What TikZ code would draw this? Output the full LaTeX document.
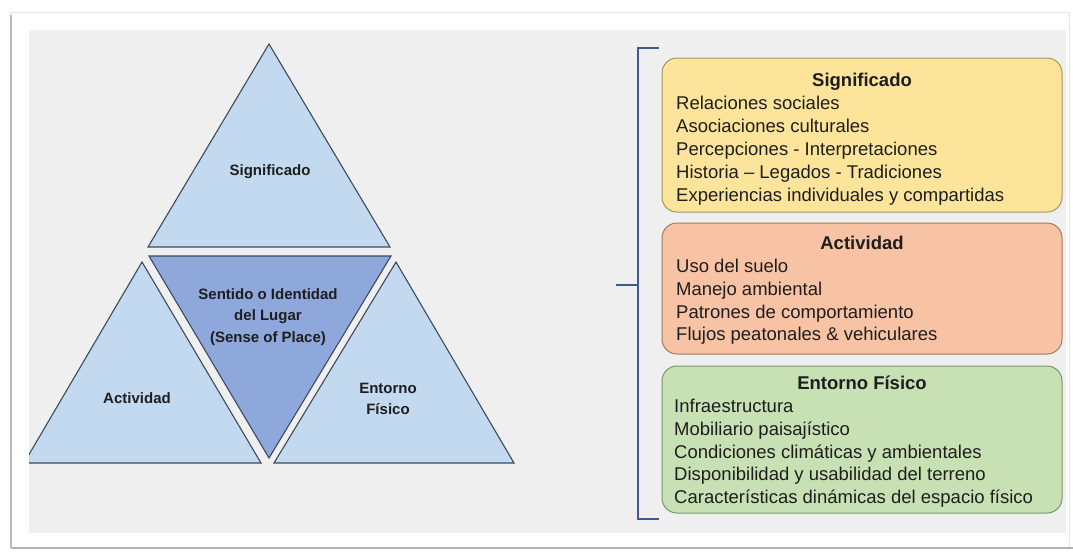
\documentclass[tikz,border=0pt]{standalone}
\usepackage{fontspec}
\setmainfont{Liberation Sans}
\definecolor{panel}{HTML}{EFEFEF}
\definecolor{trilight}{HTML}{C2D9EF}
\definecolor{tridark}{HTML}{8FA8DC}
\definecolor{triline}{HTML}{3B4A5E}
\definecolor{brk}{HTML}{3E5A8E}
\definecolor{yfill}{HTML}{FDE49B}
\definecolor{yline}{HTML}{A8955E}
\definecolor{ofill}{HTML}{F8C3A5}
\definecolor{oline}{HTML}{A27B63}
\definecolor{gfill}{HTML}{C7E1B5}
\definecolor{gline}{HTML}{789868}
\definecolor{txt}{HTML}{1E1E1E}
\begin{document}
\begin{tikzpicture}[x=1pt,y=-1pt,
  tri/.style={draw=triline, line width=1.1pt, line join=miter},
  trilabel/.style={font=\bfseries\fontsize{15}{21.5}\selectfont, text=txt, align=center, inner sep=0pt},
  card/.style={line width=1pt, rounded corners=15pt},
  cardtitle/.style={font=\bfseries\fontsize{18.5}{23}\selectfont, text=txt, anchor=base, inner sep=0pt},
  carditem/.style={font=\fontsize{18.5}{23}\selectfont, text=txt, anchor=base west, inner sep=0pt},
  bracket/.style={draw=brk, line width=2pt}]
\useasboundingbox (0,0) rectangle (1073,552);
\fill[white] (0,0) rectangle (1073,552);
% outer frame
\draw[gray!20, line width=1pt] (10,12) rectangle (1069,548);
\draw[gray!55, line width=1.5pt] (11,15) -- (11,548);
\draw[gray!60, line width=1.5pt] (11,548) -- (1073,548);
% panel
\fill[panel] (29,30) rectangle (1066,533);
% triangles
\begin{scope}
\clip (29,30) rectangle (1066,533);
\filldraw[tri, fill=trilight] (269,44) -- (390,247) -- (148,247) -- cycle;
\filldraw[tri, fill=tridark] (149,256) -- (391,256) -- (269,458) -- cycle;
\filldraw[tri, fill=trilight] (142,262) -- (261,463) -- (24,463) -- cycle;
\filldraw[tri, fill=trilight] (396,262) -- (514,463) -- (274,463) -- cycle;
\end{scope}
\node[trilabel] (tsig) at (270,172) {Significado};
\node[trilabel] (tsense) at (268,317) {Sentido o Identidad\\del Lugar\\(Sense of Place)};
\node[trilabel] (tact) at (137,398) {Actividad};
\node[trilabel] (tent) at (388,399) {Entorno\\Físico};
% bracket
\coordinate (bt) at (638,48);
\coordinate (bb) at (638,519);
\coordinate (bm) at (638,285);
\coordinate (btr) at (659,48);
\coordinate (bbr) at (659,519);
\coordinate (bml) at (616,285);
\draw[bracket] (btr) -- (bt) -- (bb) -- (bbr);
\draw[bracket] (bm) -- (bml);
% cards
\node[card, draw=yline, fill=yfill, minimum width=400pt, minimum height=154pt, inner sep=0pt] (ycard) at (862,135) {};
\node[card, draw=oline, fill=ofill, minimum width=400pt, minimum height=131pt, inner sep=0pt] (ocard) at (862,288.5) {};
\node[card, draw=gline, fill=gfill, minimum width=400pt, minimum height=147pt, inner sep=0pt] (gcard) at (862,439.5) {};
% yellow
\node[cardtitle] (ytitle) at (862,86.5) {Significado};
\node[carditem] (y1) at (676,109.5) {Relaciones sociales};
\node[carditem] (y2) at (676,132.5) {Asociaciones culturales};
\node[carditem] (y3) at (676,155.5) {Percepciones - Interpretaciones};
\node[carditem] (y4) at (676,178.5) {Historia – Legados - Tradiciones};
\node[carditem] (y5) at (676,201.5) {Experiencias individuales y compartidas};
% orange
\node[cardtitle] (otitle) at (862,249.5) {Actividad};
\node[carditem] (o1) at (676,272.5) {Uso del suelo};
\node[carditem] (o2) at (676,295.5) {Manejo ambiental};
\node[carditem] (o3) at (676,318) {Patrones de comportamiento};
\node[carditem] (o4) at (676,340.5) {Flujos peatonales \& vehiculares};
% green
\node[cardtitle] (gtitle) at (862,389.5) {Entorno Físico};
\node[carditem] (g1) at (674,412.5) {Infraestructura};
\node[carditem] (g2) at (674,435) {Mobiliario paisajístico};
\node[carditem] (g3) at (674,458) {Condiciones climáticas y ambientales};
\node[carditem] (g4) at (674,480.5) {Disponibilidad y usabilidad del terreno};
\node[carditem] (g5) at (674,503.5) {Características dinámicas del espacio físico};
\end{tikzpicture}
\end{document}
